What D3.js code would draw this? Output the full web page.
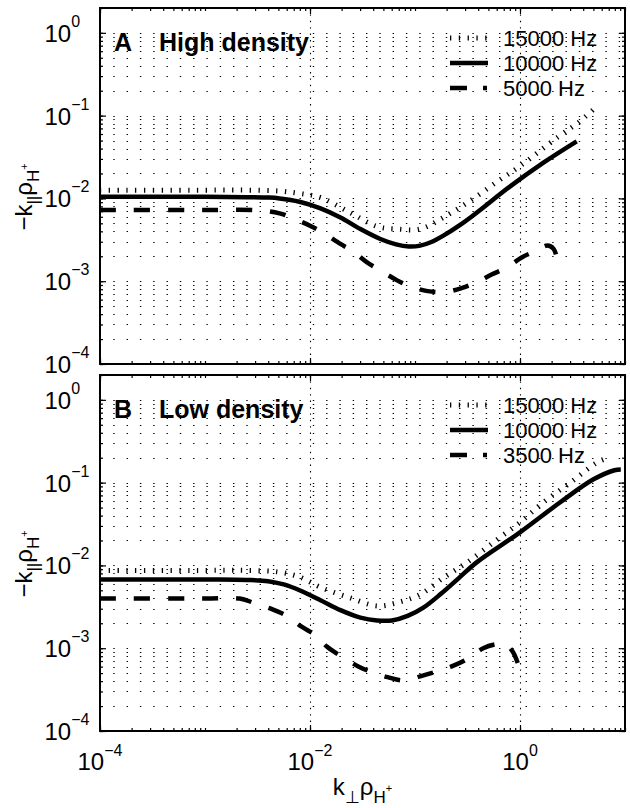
<!DOCTYPE html>
<html><head><meta charset="utf-8">
<script src="https://cdn.jsdelivr.net/npm/d3@7"></script>
<style>
body{margin:0;background:#fff}
svg{display:block}
text{font-family:"Liberation Sans",Arial,Helvetica,sans-serif;fill:#000}
</style>
</head><body>
<svg id="c" width="630" height="808"></svg>
<script>
// ---------------- data (log10 values) ----------------
const xTickExps = [-4, -2, 0];
const yTickExps = [-4, -3, -2, -1, 0];
const panelTags = ["A", "B"];
const panelTitles = ["High density", "Low density"];
const legendA = ["15000 Hz", "10000 Hz", "5000 Hz"];
const legendB = ["15000 Hz", "10000 Hz", "3500 Hz"];

// Panel A (high density): log10(k_perp rho) and log10(-k_par rho)
const hi15000LogK = [-4, -3, -2.6, -2.3, -2.1, -1.9, -1.62, -1.36, -1.17, -0.95, -0.73, -0.5, -0.22, 0, 0.37, 0.56, 0.73];
const hi15000LogY = [-1.90, -1.90, -1.90, -1.91, -1.94, -1.99, -2.17, -2.34, -2.37, -2.37, -2.23, -2.05, -1.80, -1.61, -1.25, -1.08, -0.89];
const hi10000LogK = [-4, -3, -2.6, -2.4, -2.29, -2.1, -1.9, -1.71, -1.52, -1.33, -1.18, -1.06, -0.95, -0.85, -0.73, -0.57, -0.41, -0.1, 0.22, 0.54];
const hi10000LogY = [-1.98, -1.98, -1.985, -1.99, -2.0, -2.04, -2.12, -2.23, -2.37, -2.49, -2.555, -2.58, -2.57, -2.53, -2.45, -2.32, -2.17, -1.86, -1.57, -1.31];
const hi5000LogK = [-4, -3, -2.48, -2.29, -2.16, -2.0, -1.88, -1.71, -1.59, -1.46, -1.33, -1.17, -1.05, -0.88, -0.71, -0.55, -0.41, -0.27, -0.12, 0.02, 0.16, 0.26, 0.32, 0.36];
const hi5000LogY = [-2.14, -2.14, -2.145, -2.18, -2.24, -2.33, -2.41, -2.55, -2.64, -2.77, -2.87, -2.99, -3.06, -3.12, -3.13, -3.08, -3.01, -2.92, -2.83, -2.71, -2.63, -2.57, -2.61, -2.77];

// Panel B (low density)
const lo15000LogK = [-4, -3, -2.6, -2.3, -2.1, -1.9, -1.62, -1.36, -1.17, -0.95, -0.73, -0.5, -0.22, 0, 0.22, 0.48, 0.73, 0.86];
const lo15000LogY = [-2.06, -2.06, -2.06, -2.08, -2.14, -2.265, -2.39, -2.49, -2.45, -2.35, -2.15, -1.96, -1.69, -1.48, -1.24, -1.0, -0.76, -0.69];
const lo10000LogK = [-4, -3, -2.9, -2.6, -2.4, -2.25, -2.1, -1.9, -1.71, -1.52, -1.36, -1.22, -1.07, -0.92, -0.75, -0.58, -0.41, 0, 0.38, 0.7, 0.9, 0.96];
const lo10000LogY = [-2.17, -2.17, -2.17, -2.175, -2.19, -2.23, -2.3, -2.42, -2.54, -2.63, -2.665, -2.665, -2.61, -2.51, -2.34, -2.15, -1.96, -1.60, -1.24, -0.96, -0.85, -0.84];
const lo3500LogK = [-4, -3, -2.67, -2.54, -2.38, -2.22, -2.08, -1.95, -1.84, -1.70, -1.54, -1.41, -1.26, -1.10, -0.95, -0.79, -0.65, -0.50, -0.35, -0.22, -0.14, -0.07, -0.01];
const lo3500LogY = [-2.40, -2.40, -2.40, -2.45, -2.52, -2.61, -2.74, -2.84, -2.98, -3.10, -3.22, -3.29, -3.35, -3.39, -3.34, -3.28, -3.22, -3.13, -3.00, -2.95, -2.95, -3.04, -3.22];

// ---------------- layout ----------------
const left = 100, right = 625;
const panelTops = [8, 375], panelH = 356;
const yTop = Math.pow(10, 0.3);

const svg = d3.select("#c");
const x = d3.scaleLog().domain([1e-4, 10]).range([left, right]);

const styles = {
  dotted: {w: 5, dash: "1.3,7.5", legendDash: "1.3,7.5"},
  solid: {w: 4.5, dash: null, legendDash: null},
  dashed: {w: 4.5, dash: "16,18", legendDash: "17,16,4,100"}
};

const panels = [
  {series: [
     {k: hi15000LogK, y: hi15000LogY, s: "dotted"},
     {k: hi10000LogK, y: hi10000LogY, s: "solid"},
     {k: hi5000LogK, y: hi5000LogY, s: "dashed"}], legend: legendA},
  {series: [
     {k: lo15000LogK, y: lo15000LogY, s: "dotted"},
     {k: lo10000LogK, y: lo10000LogY, s: "solid"},
     {k: lo3500LogK, y: lo3500LogY, s: "dashed"}], legend: legendB}
];

const yMinor = [];
for (let e = -4; e <= 0; e++) for (let m = 1; m <= 9; m++) {
  const v = m * Math.pow(10, e);
  if (v <= 1.0001) yMinor.push(v);
}
yMinor.push(2);
const xMinor = [];
for (let e = -4; e <= 0; e++) for (let m = 1; m <= 9; m++) xMinor.push(m * Math.pow(10, e));
xMinor.push(10);

panels.forEach((p, pi) => {
  const top = panelTops[pi];
  const y = d3.scaleLog().domain([1e-4, yTop]).range([top + panelH, top]).clamp(true);
  const g = svg.append("g");

  const clipId = "clip" + pi;
  svg.append("clipPath").attr("id", clipId).append("rect")
    .attr("x", left).attr("y", top).attr("width", right - left).attr("height", panelH);

  // grid: horizontal dotted at every y tick (major + minor)
  g.append("g").selectAll("line").data(yMinor).join("line")
    .attr("x1", left).attr("x2", right)
    .attr("y1", d => Math.round(y(d)) + 0.5).attr("y2", d => Math.round(y(d)) + 0.5)
    .attr("stroke", "#000").attr("stroke-width", 1.2).attr("stroke-dasharray", "1.4,11.9");
  // grid: vertical dotted at labelled x ticks
  g.append("g").selectAll("line").data(xTickExps.slice(1).map(e => Math.pow(10, e))).join("line")
    .attr("x1", d => Math.round(x(d)) + 0.5).attr("x2", d => Math.round(x(d)) + 0.5)
    .attr("y1", top).attr("y2", top + panelH)
    .attr("stroke", "#000").attr("stroke-width", 1.1).attr("stroke-dasharray", "1.4,5");

  // axes ticks (inward) via d3 axes
  const yMaj = yTickExps.map(e => Math.pow(10, e));
  const xMaj = xTickExps.map(e => Math.pow(10, e));
  const axStyle = sel => { sel.select(".domain").remove(); sel.selectAll("line").attr("stroke", "#000").attr("stroke-width", 1.2); };
  g.append("g").attr("transform", `translate(${left},0)`).call(d3.axisLeft(y).tickValues(yMinor).tickSize(-3).tickFormat("")).call(axStyle);
  g.append("g").attr("transform", `translate(${left},0)`).call(d3.axisLeft(y).tickValues(yMaj).tickSize(-6).tickFormat("")).call(axStyle);
  g.append("g").attr("transform", `translate(${right},0)`).call(d3.axisRight(y).tickValues(yMinor).tickSize(-3).tickFormat("")).call(axStyle);
  g.append("g").attr("transform", `translate(${right},0)`).call(d3.axisRight(y).tickValues(yMaj).tickSize(-6).tickFormat("")).call(axStyle);
  g.append("g").attr("transform", `translate(0,${top + panelH})`).call(d3.axisBottom(x).tickValues(xMinor).tickSize(-3).tickFormat("")).call(axStyle);
  g.append("g").attr("transform", `translate(0,${top + panelH})`).call(d3.axisBottom(x).tickValues(xMaj).tickSize(-6).tickFormat("")).call(axStyle);
  g.append("g").attr("transform", `translate(0,${top})`).call(d3.axisTop(x).tickValues(xMinor).tickSize(-3).tickFormat("")).call(axStyle);
  g.append("g").attr("transform", `translate(0,${top})`).call(d3.axisTop(x).tickValues(xMaj).tickSize(-6).tickFormat("")).call(axStyle);

  // curves
  const line = d3.line().x(d => x(d[0])).y(d => y(d[1])).curve(d3.curveCatmullRom.alpha(0.5));
  const cg = g.append("g").attr("clip-path", `url(#${clipId})`);
  p.series.forEach(s => {
    const pts = s.k.map((k, i) => [Math.pow(10, k), Math.pow(10, s.y[i])]);
    const st = styles[s.s];
    cg.append("path").attr("d", line(pts)).attr("fill", "none").attr("stroke", "#000")
      .attr("stroke-width", st.w).attr("stroke-dasharray", st.dash)
      .attr("stroke-linecap", "butt").attr("stroke-linejoin", "round");
  });

  // frame
  g.append("rect").attr("x", left).attr("y", top).attr("width", right - left).attr("height", panelH)
    .attr("fill", "none").attr("stroke", "#000").attr("stroke-width", 2);

  // y tick labels
  yTickExps.forEach(e => {
    const t = g.append("text").attr("x", 44.5).attr("y", y(Math.pow(10, e)) + 9).attr("font-size", 24);
    t.append("tspan").text("10");
    t.append("tspan").attr("font-size", 16).attr("dy", -15).text(e < 0 ? "\u2212" + (-e) : String(e));
  });

  // panel tag + title
  g.append("text").attr("x", 114).attr("y", top + 43).attr("font-size", 25).attr("font-weight", "bold").text(panelTags[pi]);
  g.append("text").attr("x", 159).attr("y", top + 43).attr("font-size", 25).attr("font-weight", "bold").text(panelTitles[pi]);

  // legend
  const rows = [38, 63, 88];
  p.series.forEach((s, i) => {
    const st = styles[s.s];
    const ly = top + rows[i] - 8;
    g.append("line").attr("x1", 450).attr("x2", 488).attr("y1", ly).attr("y2", ly)
      .attr("stroke", "#000").attr("stroke-width", st.w).attr("stroke-dasharray", st.legendDash);
    g.append("text").attr("x", 503).attr("y", top + rows[i]).attr("font-size", 22).text(p.legend[i]);
  });

  // y label
  const yl = g.append("text").attr("transform", `translate(32,${top + 189}) rotate(-90)`)
    .attr("text-anchor", "middle").attr("font-size", 24);
  yl.append("tspan").text("\u2212k");
  yl.append("tspan").attr("font-size", 17).attr("dy", 7).text("||");
  yl.append("tspan").attr("font-size", 24).attr("dy", -7).text("\u03c1");
  yl.append("tspan").attr("font-size", 17).attr("dy", 7).text("H");
  yl.append("tspan").attr("font-size", 11).attr("dy", -11).text("+");
});

// x tick labels (bottom panel only)
xTickExps.forEach(e => {
  const t = svg.append("text").attr("x", x(Math.pow(10, e))).attr("y", 770).attr("font-size", 24).attr("text-anchor", "middle");
  t.append("tspan").text("10");
  t.append("tspan").attr("font-size", 16).attr("dy", -14).text(e < 0 ? "\u2212" + (-e) : String(e));
});

// x label
const xl = svg.append("text").attr("x", (left + right) / 2).attr("y", 795).attr("text-anchor", "middle").attr("font-size", 24);
xl.append("tspan").text("k");
xl.append("tspan").attr("font-size", 17).attr("dy", 8).text("\u22a5");
xl.append("tspan").attr("font-size", 24).attr("dy", -8).text("\u03c1");
xl.append("tspan").attr("font-size", 17).attr("dy", 8).text("H");
xl.append("tspan").attr("font-size", 11).attr("dy", -11).text("+");
</script>
</body></html>
